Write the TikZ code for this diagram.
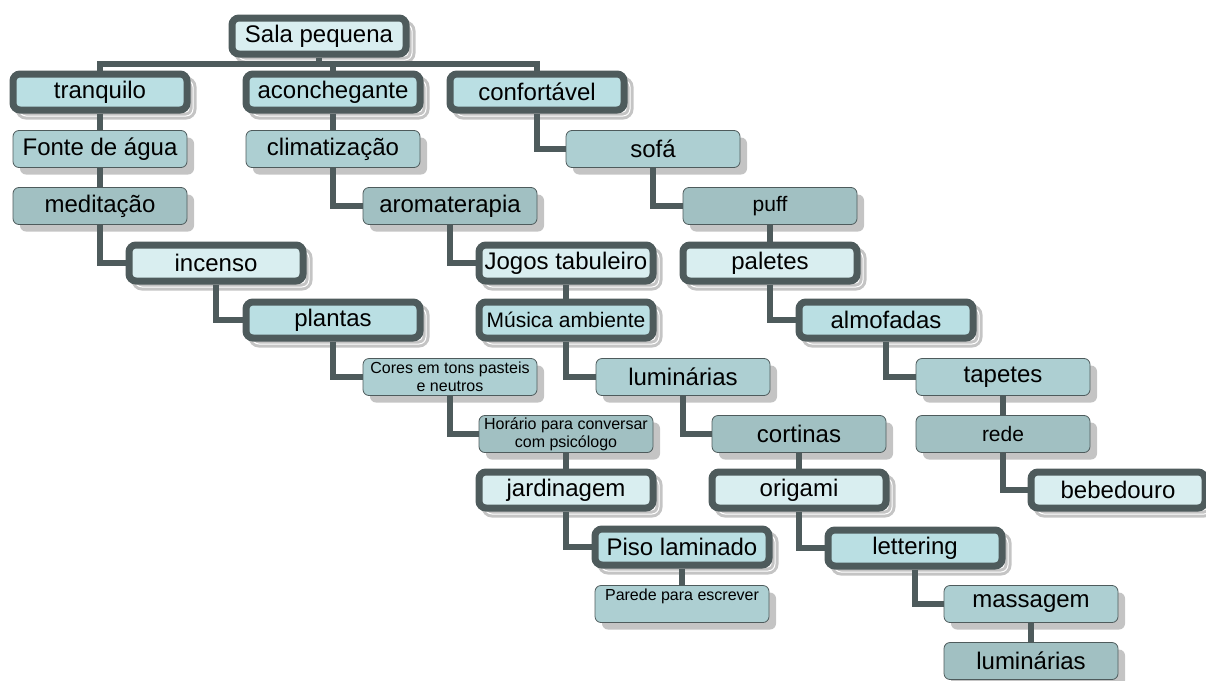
\documentclass[tikz,border=0pt]{standalone}
\usepackage{fontspec}
\setmainfont{Liberation Sans}
\usetikzlibrary{positioning,shadows}
\definecolor{mapEdge}{HTML}{4E5B5C}
\definecolor{mapPale}{HTML}{D9EEF0}
\definecolor{mapCyan}{HTML}{BADFE3}
\definecolor{mapSage}{HTML}{ADCFD2}
\definecolor{mapMoss}{HTML}{A1C0C2}
\definecolor{mapShade}{HTML}{C4C4C4}
\newcommand{\mapBig}{\fontsize{24}{27}\selectfont}
\newcommand{\mapMid}{\fontsize{21}{24}\selectfont}
\newcommand{\mapSmall}{\fontsize{16}{18}\selectfont}

\begin{document}
\begin{tikzpicture}[x=1pt, y=-1pt,
      box/.style={rounded corners=7pt, inner sep=2pt, align=center, text=black, font=\mapBig},
      heavy/.style={box, draw=mapEdge, line width=7pt, minimum width=174pt, minimum height=36pt,
        drop shadow={shadow xshift=6pt, shadow yshift=-6pt, opacity=1, fill=white,
          draw=mapShade, double=white, double distance=1pt, line width=3pt}},
      light/.style={box, rounded corners=6pt, draw=mapEdge, line width=0.8pt,
        minimum width=174pt, minimum height=37pt,
        drop shadow={shadow xshift=7pt, shadow yshift=-7pt, opacity=1, fill=mapShade}},
      hpale/.style={heavy, fill=mapPale},
      hcyan/.style={heavy, fill=mapCyan},
      lsage/.style={light, fill=mapSage},
      lmoss/.style={light, fill=mapMoss},
      link/.style={draw=mapEdge, line width=6pt}]
    \useasboundingbox (0,0) rectangle (1206,680);
    % root and first level
    \node[hpale] (sala) at (319,36) {Sala pequena};
    \node[hcyan] (tranq) at (100,92) {tranquilo};
    \node[hcyan] (aconc) at (333,92) {aconchegante};
    \node[hcyan] (conf) at (537,92) {confortável};
    % branch: tranquilo
    \node[lsage] (fonte) at (100,149) {Fonte de água};
    \node[lmoss] (medit) at (100,206) {meditação};
    \node[hpale] (incen) at (216,263) {incenso};
    \node[hcyan] (plant) at (333,320) {plantas};
    \node[lsage, font=\mapSmall] (cores) at (450,377) {Cores em tons pasteis\\e neutros};
    \node[lmoss, font=\mapSmall] (horar) at (566,434) {Horário para conversar\\com psicólogo};
    \node[hpale] (jardi) at (566,490) {jardinagem};
    \node[hcyan] (piso) at (682,547) {Piso laminado};
    \node[lsage, font=\mapSmall] (pared) at (682,604) {Parede para escrever\\\mbox{}};
    % branch: aconchegante
    \node[lsage] (clima) at (333,149) {climatização};
    \node[lmoss] (aroma) at (450,206) {aromaterapia};
    \node[hpale] (jogos) at (566,263) {Jogos tabuleiro};
    \node[hcyan, font=\mapMid] (music) at (566,320) {Música ambiente};
    \node[lsage] (lumin) at (683,377) {luminárias};
    \node[lmoss] (corti) at (799,434) {cortinas};
    \node[hpale] (origa) at (799,490) {origami};
    \node[hcyan] (lette) at (915,548) {lettering};
    \node[lsage] (massa) at (1031,604) {massagem};
    \node[lmoss] (lumib) at (1031,661) {luminárias};
    % branch: confortável
    \node[lsage] (sofa) at (653,149) {sofá};
    \node[lmoss, font=\mapMid] (puff) at (770,206) {puff};
    \node[hpale] (palet) at (770,263) {paletes};
    \node[hcyan] (almof) at (886,320) {almofadas};
    \node[lsage] (tapet) at (1003,377) {tapetes};
    \node[lmoss, font=\mapMid] (rede) at (1003,434) {rede};
    \node[hpale] (bebed) at (1118,490) {bebedouro};
    % connectors
    \coordinate (bus) at (319,64);
    \draw[link] (sala.south) -- (bus);
    \draw[link] (tranq.north) |- (bus) -| (conf.north);
    \draw[link] (aconc.north) -- (aconc.north |- bus);
    \draw[link] (tranq) -- (fonte);
    \draw[link] (fonte) -- (medit);
    \draw[link] (medit.south) |- (incen.west);
    \draw[link] (incen.south) |- (plant.west);
    \draw[link] (plant.south) |- (cores.west);
    \draw[link] (cores.south) |- (horar.west);
    \draw[link] (horar) -- (jardi);
    \draw[link] (jardi.south) |- (piso.west);
    \draw[link] (piso) -- (pared);
    \draw[link] (aconc) -- (clima);
    \draw[link] (clima.south) |- (aroma.west);
    \draw[link] (aroma.south) |- (jogos.west);
    \draw[link] (jogos) -- (music);
    \draw[link] (music.south) |- (lumin.west);
    \draw[link] (lumin.south) |- (corti.west);
    \draw[link] (corti) -- (origa);
    \draw[link] (origa.south) |- (lette.west);
    \draw[link] (lette.south) |- (massa.west);
    \draw[link] (massa) -- (lumib);
    \draw[link] (conf.south) |- (sofa.west);
    \draw[link] (sofa.south) |- (puff.west);
    \draw[link] (puff) -- (palet);
    \draw[link] (palet.south) |- (almof.west);
    \draw[link] (almof.south) |- (tapet.west);
    \draw[link] (tapet) -- (rede);
    \draw[link] (rede.south) |- (bebed.west);
  \end{tikzpicture}
\end{document}
